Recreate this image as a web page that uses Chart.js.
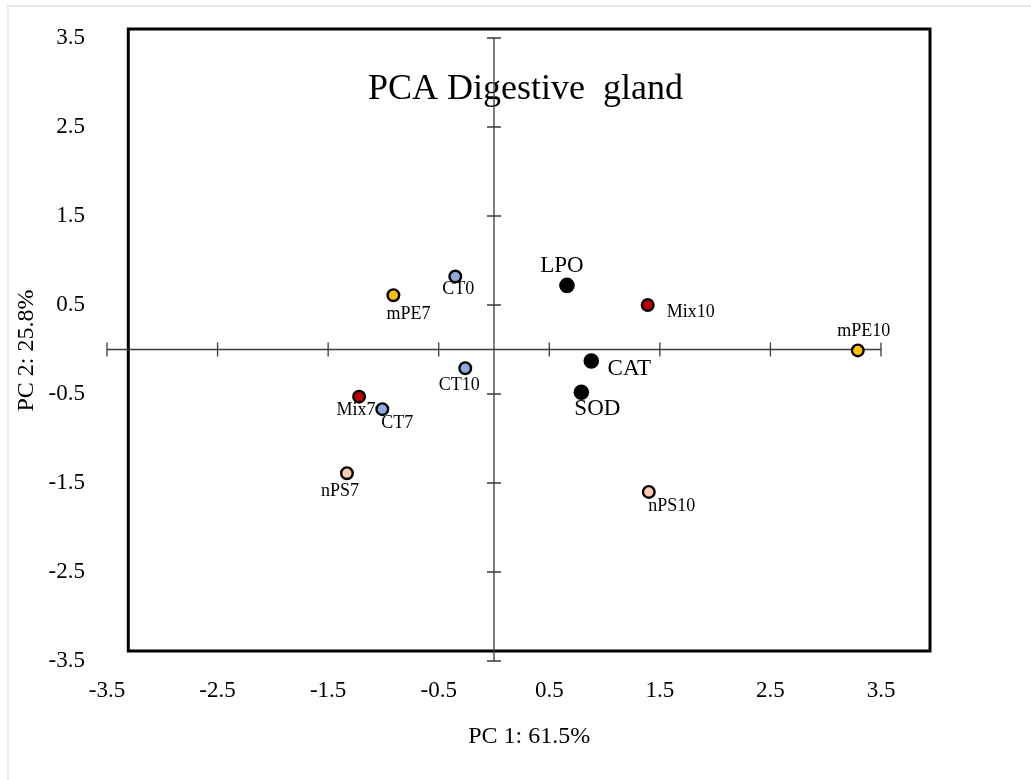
<!DOCTYPE html>
<html>
<head>
<meta charset="utf-8">
<script src="https://cdn.jsdelivr.net/npm/chart.js@4/dist/chart.umd.min.js"></script>
<style>
  html, body { margin: 0; padding: 0; overflow: hidden; background: #ffffff; }
  #frame { position: absolute; left: 7px; top: 5px; width: 1100px; height: 900px;
           border-top: 2px solid #e4e8ee; border-left: 2px solid #e4e8ee; box-sizing: border-box; }
  #wrap { position: absolute; left: 0; top: 0; width: 1031px; height: 780px; }
</style>
</head>
<body>
<div id="frame"></div>
<div id="wrap"><canvas id="c" width="1031" height="780"></canvas></div>
<script>
// ---- data ----
const chartTitle = 'PCA Digestive  gland';
const xTitle = 'PC 1: 61.5%';
const yTitle = 'PC 2: 25.8%';
const xTicks = [-3.5, -2.5, -1.5, -0.5, 0.5, 1.5, 2.5, 3.5];
const yTicks = [-3.5, -2.5, -1.5, -0.5, 0.5, 1.5, 2.5, 3.5];

const mpeLabels = ['mPE7', 'mPE10'];
const mpeX = [-0.91, 3.29];
const mpeY = [0.61, -0.01];

const mixLabels = ['Mix7', 'Mix10'];
const mixX = [-1.22, 1.39];
const mixY = [-0.53, 0.50];

const ctLabels = ['CT0', 'CT7', 'CT10'];
const ctX = [-0.35, -1.01, -0.26];
const ctY = [0.82, -0.67, -0.21];

const npsLabels = ['nPS7', 'nPS10'];
const npsX = [-1.33, 1.40];
const npsY = [-1.39, -1.60];

const varLabels = ['LPO', 'CAT', 'SOD'];
const varX = [0.66, 0.88, 0.79];
const varY = [0.72, -0.13, -0.48];

// ---- styling (label offsets in px, relative to marker centre) ----
const labelOffsets = {
  'mPE7': [15, 19], 'mPE10': [6, -19], 'Mix7': [-3, 14], 'Mix10': [43, 7],
  'CT0': [3, 13], 'CT7': [15, 14], 'CT10': [-6, 17], 'nPS7': [-7, 18],
  'nPS10': [23, 14], 'LPO': [-5, -19], 'CAT': [38, 8], 'SOD': [16, 17]
};
const FONT = "'Liberation Serif', 'Times New Roman', serif";
Chart.defaults.font.family = FONT;
Chart.defaults.color = '#000000';

function pts(xs, ys, names) { return xs.map((x, i) => ({ x: x, y: ys[i], name: names[i] })); }

function sampleSet(label, xs, ys, names, fill) {
  return {
    label: label, data: pts(xs, ys, names),
    backgroundColor: fill, borderColor: '#000000',
    pointRadius: 5.8, pointBorderWidth: 2.4, pointHoverRadius: 5.8,
    labelSize: 18
  };
}

const datasets = [
  sampleSet('mPE', mpeX, mpeY, mpeLabels, '#FFC000'),
  sampleSet('Mix', mixX, mixY, mixLabels, '#C00000'),
  sampleSet('CT', ctX, ctY, ctLabels, '#8FAADC'),
  sampleSet('nPS', npsX, npsY, npsLabels, '#F8CBAD'),
  {
    label: 'Variables', data: pts(varX, varY, varLabels),
    backgroundColor: '#000000', borderColor: '#000000',
    pointRadius: 7.8, pointBorderWidth: 0, pointHoverRadius: 7.8,
    labelSize: 23
  }
];

const decor = {
  id: 'decor',
  beforeDatasetsDraw(chart) {
    const ctx = chart.ctx;
    const ca = chart.chartArea;
    const xs = chart.scales.x, ys = chart.scales.y;
    const boxL = ca.left + 21.3, boxR = ca.right + 49, boxT = ca.top - 9, boxB = ca.bottom - 10;
    ctx.save();
    // plot frame
    ctx.strokeStyle = '#000000';
    ctx.lineWidth = 3;
    ctx.strokeRect(boxL, boxT, boxR - boxL, boxB - boxT);
    // title
    ctx.fillStyle = '#000000';
    ctx.font = '36px ' + FONT;
    ctx.textAlign = 'center';
    ctx.textBaseline = 'alphabetic';
    ctx.fillText(chartTitle, 525.5, 99);
    // crossing axes
    const x0 = xs.getPixelForValue(0), y0 = ys.getPixelForValue(0);
    ctx.strokeStyle = '#3a3a3a';
    ctx.lineWidth = 1.3;
    ctx.beginPath();
    ctx.moveTo(xs.getPixelForValue(xTicks[0]), y0);
    ctx.lineTo(xs.getPixelForValue(xTicks[xTicks.length - 1]), y0);
    ctx.moveTo(x0, ys.getPixelForValue(yTicks[0]));
    ctx.lineTo(x0, ys.getPixelForValue(yTicks[yTicks.length - 1]));
    xTicks.forEach(v => { const p = xs.getPixelForValue(v); ctx.moveTo(p, y0 - 7); ctx.lineTo(p, y0 + 7); });
    yTicks.forEach(v => { const p = ys.getPixelForValue(v); ctx.moveTo(x0 - 7, p); ctx.lineTo(x0 + 7, p); });
    ctx.stroke();
    // axis titles
    ctx.font = '24px ' + FONT;
    ctx.textAlign = 'center';
    ctx.textBaseline = 'middle';
    ctx.fillText(xTitle, (boxL + boxR) / 2, 737);
    ctx.save();
    ctx.translate(27, (ca.top + ca.bottom) / 2 + 1);
    ctx.rotate(-Math.PI / 2);
    ctx.fillText(yTitle, 0, 0);
    ctx.restore();
    // point labels (beneath markers)
    chart.data.datasets.forEach(ds => {
      ctx.font = ds.labelSize + 'px ' + FONT;
      ds.data.forEach(d => {
        const off = labelOffsets[d.name] || [0, 0];
        ctx.fillText(d.name, xs.getPixelForValue(d.x) + off[0], ys.getPixelForValue(d.y) + off[1]);
      });
    });
    ctx.restore();
  }
};

new Chart(document.getElementById('c'), {
  type: 'scatter',
  data: { datasets: datasets },
  options: {
    responsive: false,
    maintainAspectRatio: false,
    animation: false,
    layout: { autoPadding: false, padding: { left: 0, top: 38, right: 150, bottom: 0 } },
    plugins: { legend: { display: false }, tooltip: { enabled: false }, title: { display: false } },
    scales: {
      x: {
        type: 'linear', position: 'bottom', min: -3.5, max: 3.5,
        afterBuildTicks: s => { s.ticks = xTicks.map(v => ({ value: v })); },
        afterFit: s => { s.height = 119; },
        grid: { display: false, drawTicks: false },
        border: { display: false },
        ticks: { font: { size: 23 }, color: '#000', padding: 16, maxRotation: 0, autoSkip: false,
                 callback: v => v.toFixed(1) }
      },
      y: {
        type: 'linear', position: 'left', min: -3.5, max: 3.5,
        afterBuildTicks: s => { s.ticks = yTicks.map(v => ({ value: v })); },
        afterFit: s => { s.width = 107; },
        grid: { display: false, drawTicks: false },
        border: { display: false },
        ticks: { font: { size: 23 }, color: '#000', padding: 22, autoSkip: false,
                 callback: v => v.toFixed(1) }
      }
    }
  },
  plugins: [decor]
});
</script>
</body>
</html>
